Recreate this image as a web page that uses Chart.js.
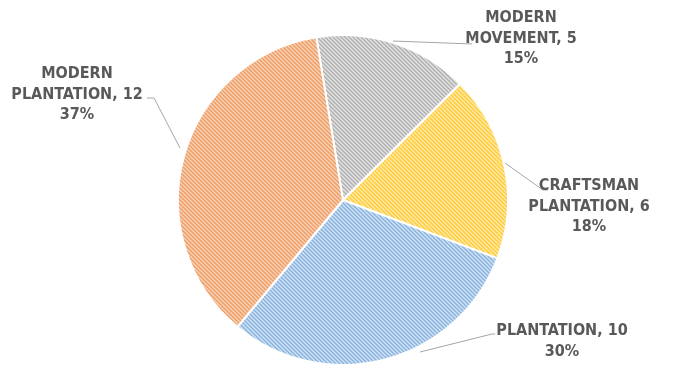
<!DOCTYPE html>
<html>
<head>
<meta charset="utf-8">
<script src="https://cdn.jsdelivr.net/npm/chart.js@4/dist/chart.umd.min.js"></script>
<style>
  html, body { margin: 0; padding: 0; background: #ffffff; }
  #wrap { width: 680px; height: 366px; position: relative; }
</style>
</head>
<body>
<div id="wrap"><canvas id="pie" width="680" height="366"></canvas></div>
<script>
const categories = ['MODERN MOVEMENT', 'CRAFTSMAN PLANTATION', 'PLANTATION', 'MODERN PLANTATION'];
const values = [5, 6, 10, 12];
const percentLabels = ['15%', '18%', '30%', '37%'];

// light fill + stripe colour for each slice
const fills = [
  ['#e4e4e4', '#b0b0b0'],
  ['#ffeaa9', '#ffcc3e'],
  ['#d2e3f4', '#8bb3df'],
  ['#f9d4b9', '#ef9d66']
];

// diagonal "\" hatch, 4px period
function hatch(bg, fg) {
  const c = document.createElement('canvas');
  c.width = 4; c.height = 4;
  const g = c.getContext('2d');
  g.fillStyle = bg;
  g.fillRect(0, 0, 4, 4);
  g.strokeStyle = fg;
  g.lineWidth = 1.5;
  g.beginPath();
  g.moveTo(-1, -1); g.lineTo(5, 5);
  g.moveTo(3, -1); g.lineTo(5, 1);
  g.moveTo(-1, 3); g.lineTo(1, 5);
  g.stroke();
  return g.createPattern(c, 'repeat');
}

// label text lines, text centre x / first line y, and leader line points
const labelLines = [
  ['MODERN', 'MOVEMENT, 5', percentLabels[0]],
  ['CRAFTSMAN', 'PLANTATION, 6', percentLabels[1]],
  ['PLANTATION, 10', percentLabels[2]],
  ['MODERN', 'PLANTATION, 12', percentLabels[3]]
];
const labelPos = [[521, 18], [589, 186], [562, 331], [77, 74]];
const leaders = [
  [[393, 41], [472, 44]],
  [[505, 163], [543, 190], [548, 190]],
  [[420, 352], [492, 334], [495, 334]],
  [[147, 98], [154, 98], [180, 148]]
];

const labelPlugin = {
  id: 'pieLabels',
  afterDatasetsDraw(chart) {
    const ctx = chart.ctx;
    ctx.save();
    ctx.strokeStyle = '#a6a6a6';
    ctx.lineWidth = 1;
    leaders.forEach(pts => {
      ctx.beginPath();
      pts.forEach((p, i) => i ? ctx.lineTo(p[0], p[1]) : ctx.moveTo(p[0], p[1]));
      ctx.stroke();
    });
    ctx.fillStyle = '#595959';
    ctx.font = 'bold 16px "DejaVu Sans Condensed", "DejaVu Sans", sans-serif';
    ctx.textAlign = 'center';
    ctx.textBaseline = 'middle';
    labelLines.forEach((lines, i) => {
      lines.forEach((t, j) => {
        ctx.fillText(t, labelPos[i][0], labelPos[i][1] + j * 20.5);
      });
    });
    ctx.restore();
  }
};

new Chart(document.getElementById('pie').getContext('2d'), {
  type: 'pie',
  data: {
    labels: categories,
    datasets: [{
      data: values,
      backgroundColor: fills.map(f => hatch(f[0], f[1])),
      borderColor: '#ffffff',
      borderWidth: 2
    }]
  },
  options: {
    responsive: false,
    animation: false,
    rotation: -9.3,
    layout: { padding: { left: 177, right: 171, top: 34, bottom: 0 } },
    plugins: {
      legend: { display: false },
      tooltip: { enabled: false }
    }
  },
  plugins: [labelPlugin]
});
</script>
</body>
</html>
